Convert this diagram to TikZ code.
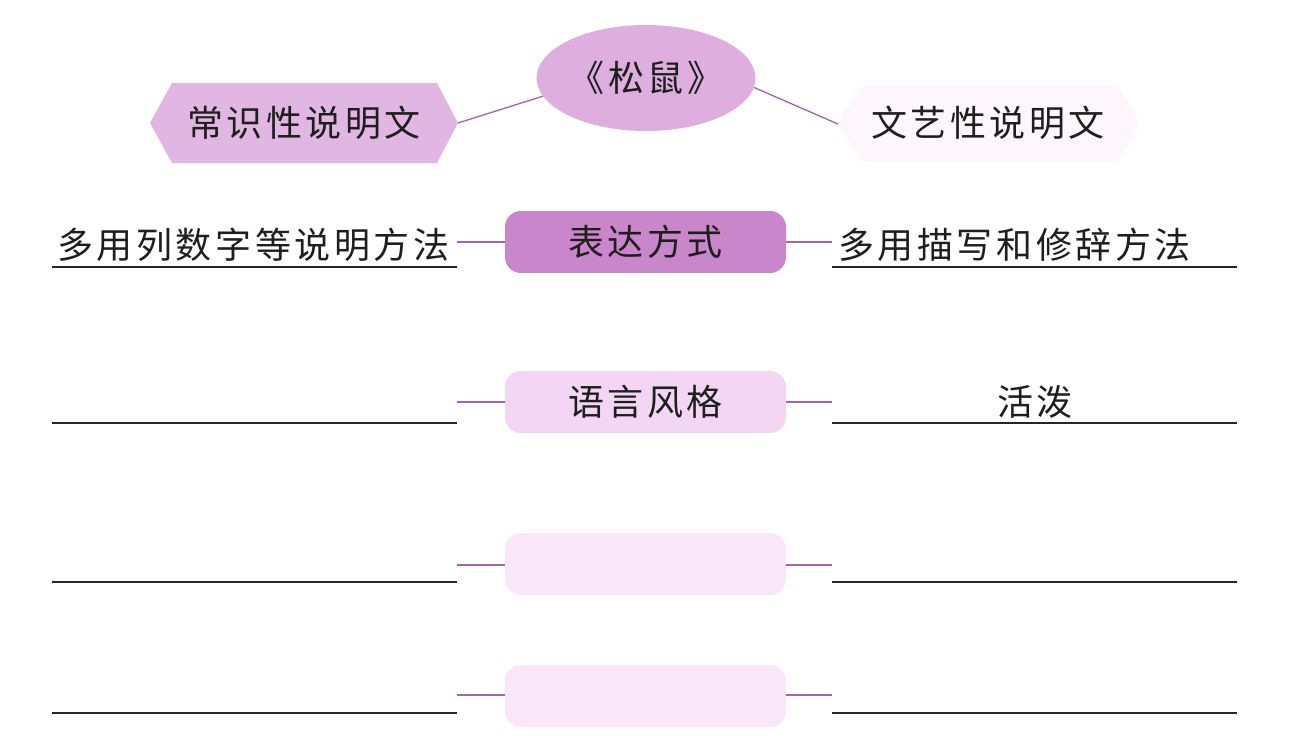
\documentclass[tikz,border=0pt]{standalone}
\usepackage{fontspec}
\newfontfamily\cjk[LetterSpace=10]{Noto Sans CJK SC}
\usetikzlibrary{shapes.geometric}
\definecolor{ellc}{RGB}{222,174,222}
\definecolor{hexc}{RGB}{226,182,226}
\definecolor{hexr}{RGB}{253,247,253}
\definecolor{boxa}{RGB}{202,134,202}
\definecolor{boxb}{RGB}{243,214,243}
\definecolor{boxc}{RGB}{249,230,249}
\definecolor{conc}{RGB}{165,100,165}
\definecolor{txtc}{RGB}{30,30,30}
\begin{document}
\begin{tikzpicture}[x=1pt,y=-1pt,
  lbl/.style={font=\cjk\fontsize{36}{40}\selectfont, text=txtc, inner sep=0pt},
  midbox/.style={rounded corners=16pt, minimum width=281pt, minimum height=62pt, inner sep=0pt, font=\cjk\fontsize{36}{40}\selectfont, text=txtc},
  con/.style={draw=conc, line width=1.5pt},
  ul/.style={draw=black!85, line width=1.4pt}]
\useasboundingbox (0,0) rectangle (1311,748);
\fill[white] (0,0) rectangle (1311,748);
% top
\node[ellipse, fill=ellc, minimum width=216pt, minimum height=106pt, inner sep=0pt, lbl] (root) at (646,78) {《松鼠》};
\fill[hexc] (150,123) -- (172,83) -- (437,83) -- (458,123) -- (437,163) -- (172,163) -- cycle;
\coordinate (hexL) at (458,123);
\node[lbl] (common) at (304,123) {常识性说明文};
\fill[hexr, rounded corners=6pt] (838,124) -- (860,86) -- (1118,86) -- (1140,124) -- (1118,162) -- (860,162) -- cycle;
\coordinate (hexR) at (838,124);
\node[lbl] (art) at (988,123) {文艺性说明文};
\draw[con, line width=1.3pt] (root.190) -- (hexL);
\draw[con, line width=1.3pt] (root.-5) -- (hexR);
% rows
\node[midbox, fill=boxa] (r1) at (645.5,242) {表达方式};
\node[midbox, fill=boxb] (r2) at (645.5,402) {语言风格};
\node[midbox, fill=boxc] (r3) at (645.5,564) {};
\node[midbox, fill=boxc] (r4) at (645.5,696) {};
% left/right texts and underlines
\node[lbl, anchor=south west] (l1) at (57,262) {多用列数字等说明方法};
\node[lbl, anchor=south west] (rt1) at (838,262) {多用描写和修辞方法};
\node[lbl] (rt2) at (1035,402) {活泼};
\coordinate (l2) at (457,402); \coordinate (rr2) at (832,402);
\coordinate (l3) at (457,565); \coordinate (rr3) at (832,565);
\coordinate (l4) at (457,695); \coordinate (rr4) at (832,695);
\coordinate (l1c) at (457,242); \coordinate (rr1c) at (832,242);
\draw[con] (l1c) -- (r1.west);
\draw[con] (r1.east) -- (rr1c);
\draw[con] (l2) -- (r2.west);
\draw[con] (r2.east) -- (rr2);
\draw[con] (l3) -- (r3.west |- l3);
\draw[con] (r3.east |- rr3) -- (rr3);
\draw[con] (l4) -- (r4.west |- l4);
\draw[con] (r4.east |- rr4) -- (rr4);
\foreach \y in {267,423,582,713}{
  \draw[ul] (52,\y) -- (457,\y);
  \draw[ul] (832,\y) -- (1237,\y);
}
\end{tikzpicture}
\end{document}
